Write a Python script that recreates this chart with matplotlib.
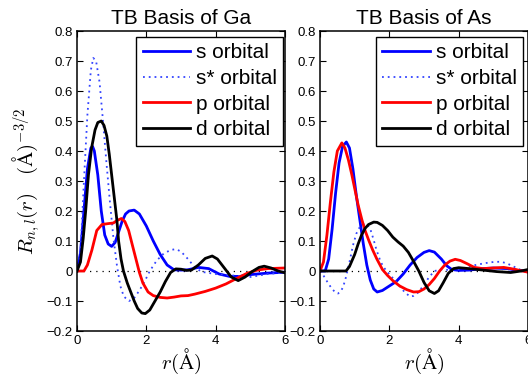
import matplotlib
matplotlib.use("Agg")
import matplotlib.pyplot as plt

plt.rcParams['font.family'] = ['Liberation Sans', 'DejaVu Sans']
plt.rcParams['mathtext.fontset'] = 'cm'

# ---------------- Ga ----------------
ga_s_r = [0, 0.1, 0.2, 0.3, 0.4, 0.45, 0.5, 0.6, 0.7, 0.8, 0.9, 1.0, 1.1, 1.2, 1.3, 1.4, 1.5, 1.65, 1.8, 2.0,
          2.2, 2.4, 2.6, 2.8, 3.0, 3.2, 3.5, 3.8, 4.1, 4.4, 4.7, 5.0, 5.5, 6.0]
ga_s_v = [0, 0.06, 0.2, 0.34, 0.41, 0.415, 0.40, 0.32, 0.2, 0.12, 0.09, 0.082, 0.095, 0.13, 0.165, 0.19, 0.2,
          0.203, 0.19, 0.15, 0.1, 0.055, 0.02, 0.004, 0.003, 0.004, 0.012, 0.008, -0.01, -0.018, -0.018,
          -0.012, -0.007, -0.004]

ga_ss_r = [0, 0.1, 0.2, 0.3, 0.4, 0.47, 0.55, 0.65, 0.75, 0.85, 0.95, 1.05, 1.15, 1.25, 1.35, 1.5, 1.65, 1.8,
           1.95, 2.1, 2.3, 2.5, 2.7, 2.85, 3.0, 3.2, 3.4, 3.6, 4.0, 4.5, 5.0, 5.5, 6.0]
ga_ss_v = [0, 0.06, 0.3, 0.52, 0.67, 0.71, 0.70, 0.63, 0.5, 0.36, 0.23, 0.11, 0.02, -0.05, -0.085, -0.1,
           -0.09, -0.065, -0.035, 0.0, 0.035, 0.058, 0.07, 0.073, 0.065, 0.04, 0.012, -0.003, -0.01, -0.015,
           -0.02, -0.01, -0.005]

ga_p_r = [0, 0.2, 0.3, 0.43, 0.57, 0.72, 0.9, 1.05, 1.15, 1.28, 1.38, 1.49, 1.6, 1.7, 1.8, 1.9, 2.05, 2.2,
          2.4, 2.6, 2.8, 3.0, 3.2, 3.4, 3.7, 4.0, 4.3, 4.6, 4.9, 5.2, 5.5, 6.0]
ga_p_v = [0, 0.0, 0.02, 0.07, 0.135, 0.155, 0.158, 0.16, 0.168, 0.175, 0.165, 0.135, 0.085, 0.04, -0.005,
          -0.04, -0.07, -0.082, -0.088, -0.09, -0.087, -0.083, -0.082, -0.077, -0.068, -0.057, -0.043,
          -0.025, -0.008, 0.003, 0.008, 0.01]

ga_d_r = [0, 0.1, 0.18, 0.25, 0.33, 0.42, 0.52, 0.6, 0.7, 0.78, 0.86, 0.93, 1.0, 1.08, 1.15, 1.2, 1.27, 1.34,
          1.45, 1.55, 1.65, 1.75, 1.87, 1.97, 2.1, 2.25, 2.4, 2.55, 2.7, 2.85, 3.0, 3.15, 3.3, 3.5, 3.7, 3.9,
          4.05, 4.25, 4.45, 4.65, 4.85, 5.05, 5.25, 5.4, 5.6, 5.8, 6.0]
ga_d_v = [0, 0.03, 0.11, 0.2, 0.32, 0.41, 0.47, 0.495, 0.5, 0.485, 0.45, 0.39, 0.32, 0.24, 0.17, 0.1, 0.04,
          0.0, -0.04, -0.07, -0.1, -0.125, -0.14, -0.142, -0.13, -0.1, -0.07, -0.035, -0.005, 0.007, 0.006,
          0.002, 0.003, 0.02, 0.042, 0.05, 0.04, 0.01, -0.02, -0.032, -0.02, -0.002, 0.012, 0.016, 0.01,
          0.0, -0.006]

# ---------------- As ----------------
as_s_r = [0, 0.15, 0.25, 0.35, 0.45, 0.55, 0.65, 0.76, 0.85, 0.95, 1.05, 1.15, 1.25, 1.35, 1.45, 1.55, 1.65,
          1.8, 2.0, 2.2, 2.4, 2.6, 2.8, 3.0, 3.15, 3.3, 3.5, 3.65, 3.8, 4.0, 4.3, 4.7, 5.0, 5.4, 5.7, 6.0]
as_s_v = [0, 0.0, 0.04, 0.14, 0.26, 0.36, 0.415, 0.43, 0.41, 0.34, 0.25, 0.17, 0.09, 0.02, -0.03, -0.06,
          -0.07, -0.065, -0.05, -0.035, -0.01, 0.02, 0.045, 0.062, 0.068, 0.063, 0.04, 0.018, 0.005, 0.002,
          0.003, 0.008, 0.01, 0.008, 0.002, 0.0]

as_ss_r = [0, 0.1, 0.23, 0.35, 0.45, 0.52, 0.6, 0.67, 0.75, 0.86, 0.95, 1.05, 1.15, 1.25, 1.35, 1.45, 1.54,
           1.63, 1.73, 1.82, 1.92, 2.05, 2.16, 2.3, 2.45, 2.6, 2.7, 2.85, 3.0, 3.15, 3.3, 3.5, 3.8, 4.1, 4.4,
           4.75, 5.0, 5.22, 5.4, 5.6, 5.8, 6.0]
as_ss_v = [0, -0.015, -0.04, -0.06, -0.072, -0.075, -0.068, -0.052, -0.02, 0.035, 0.085, 0.125, 0.147,
           0.155, 0.157, 0.14, 0.107, 0.07, 0.037, 0.015, 0.0, -0.018, -0.03, -0.05, -0.072, -0.085, -0.083,
           -0.07, -0.045, -0.02, 0.0, 0.005, 0.003, 0.008, 0.018, 0.026, 0.03, 0.031, 0.025, 0.014, 0.003,
           -0.005]

as_p_r = [0, 0.1, 0.2, 0.3, 0.4, 0.5, 0.63, 0.72, 0.82, 0.92, 1.01, 1.1, 1.21, 1.3, 1.4, 1.52, 1.64, 1.8,
          1.95, 2.1, 2.3, 2.5, 2.7, 2.85, 3.0, 3.15, 3.3, 3.45, 3.6, 3.75, 3.9, 4.05, 4.25, 4.45, 4.7, 5.0,
          5.3, 5.6, 6.0]
as_p_v = [0, 0.03, 0.12, 0.23, 0.33, 0.4, 0.427, 0.41, 0.37, 0.32, 0.27, 0.22, 0.17, 0.135, 0.104, 0.07,
          0.04, 0.005, -0.015, -0.032, -0.05, -0.062, -0.07, -0.069, -0.06, -0.045, -0.025, 0.0, 0.02,
          0.033, 0.039, 0.035, 0.024, 0.012, 0.008, 0.01, 0.012, 0.006, -0.004]

as_d_r = [0, 0.75, 0.85, 1.0, 1.1, 1.2, 1.3, 1.4, 1.55, 1.65, 1.8, 1.95, 2.1, 2.25, 2.4, 2.55, 2.7, 2.85,
          3.0, 3.15, 3.3, 3.42, 3.55, 3.7, 3.85, 4.0, 4.3, 4.7, 5.1, 5.5, 5.8, 6.0]
as_d_v = [0, 0.0, 0.015, 0.055, 0.09, 0.12, 0.142, 0.155, 0.163, 0.162, 0.152, 0.135, 0.113, 0.097, 0.083,
          0.062, 0.032, 0.0, -0.038, -0.066, -0.075, -0.066, -0.04, -0.008, 0.008, 0.011, 0.008, 0.003,
          -0.002, -0.005, 0.0, 0.005]

titles = ["TB Basis of Ga", "TB Basis of As"]
labels = ["s orbital", "s* orbital", "p orbital", "d orbital"]
yticks = [-0.2, -0.1, 0, 0.1, 0.2, 0.3, 0.4, 0.5, 0.6, 0.7, 0.8]
ytick_labels = ["\u22120.2", "\u22120.1", "0", "0.1", "0.2", "0.3", "0.4", "0.5", "0.6", "0.7", "0.8"]
xticks = [0, 2, 4, 6]

W, H = 528, 375
fig = plt.figure(figsize=(W / 100, H / 100), dpi=100)
ax1 = fig.add_axes([77 / W, 44 / H, 208 / W, 300 / H])
ax2 = fig.add_axes([320 / W, 44 / H, 208 / W, 300 / H])

data = [
    [(ga_s_r, ga_s_v), (ga_ss_r, ga_ss_v), (ga_p_r, ga_p_v), (ga_d_r, ga_d_v)],
    [(as_s_r, as_s_v), (as_ss_r, as_ss_v), (as_p_r, as_p_v), (as_d_r, as_d_v)],
]
styles = [
    dict(color='#0000ff', lw=2.0, ls='-'),
    dict(color='#3344ff', lw=1.3, ls=(0, (1, 2.2))),
    dict(color='#ff0000', lw=2.0, ls='-'),
    dict(color='#000000', lw=2.0, ls='-'),
]
legend_anchor = [(0.990, 0.98), (0.975, 0.98)]

for ax, title, series, anc in zip([ax1, ax2], titles, data, legend_anchor):
    ax.plot([0, 6], [0, 0], color='black', lw=0.9, ls=(0, (1, 4)), zorder=1)
    for (r, v), st, lab in zip(series, styles, labels):
        ax.plot(r, v, label=lab, zorder=2, **st)
    ax.set_xlim(0, 6)
    ax.set_ylim(-0.2, 0.8)
    ax.set_xticks(xticks)
    ax.set_yticks(yticks)
    ax.set_yticklabels(ytick_labels)
    ax.tick_params(direction='in', top=True, right=True, length=4, width=0.8, labelsize=9.5, pad=3)
    for sp in ax.spines.values():
        sp.set_linewidth(1.1)
    ax.set_title(title, fontsize=15, pad=5)
    ax.set_xlabel(r"$r(\mathrm{\AA})$", fontsize=15, labelpad=0)
    leg = ax.legend(loc='upper right', bbox_to_anchor=anc, fontsize=15, frameon=True, fancybox=False,
                    framealpha=1, edgecolor='black', handlelength=2.3, handletextpad=0.25, borderpad=0.3,
                    labelspacing=0.32, borderaxespad=0)
    leg.get_frame().set_linewidth(1.0)

ax1.set_ylabel(r"$R_{n,l}(r) \quad (\mathrm{\AA})^{-3/2}$", fontsize=15, labelpad=3)

fig.savefig("out.png", dpi=100)
